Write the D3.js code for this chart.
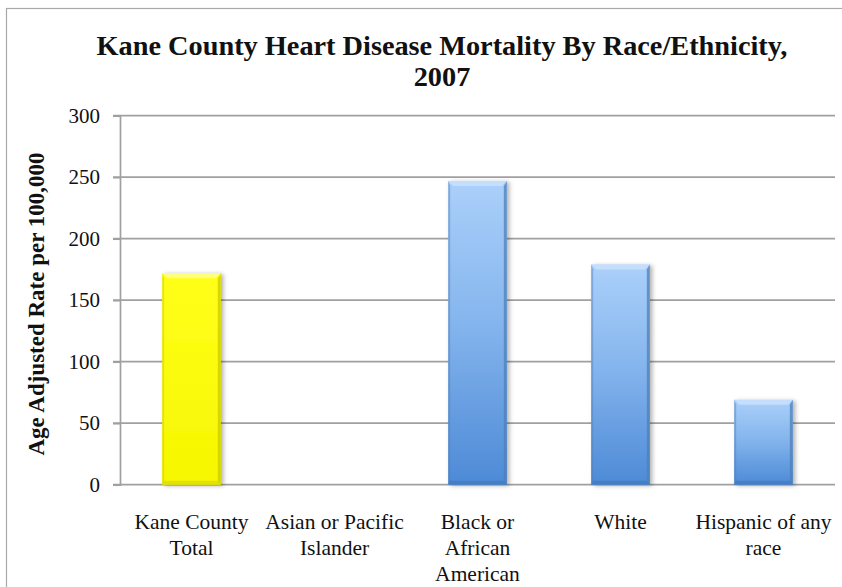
<!DOCTYPE html>
<html>
<head>
<meta charset="utf-8">
<script src="https://cdn.jsdelivr.net/npm/d3@7/dist/d3.min.js"></script>
<style>
  html, body { margin: 0; padding: 0; background: #fff; }
  svg { display: block; }
  svg text { font-family: 'Liberation Serif', Tinos, 'Times New Roman', Times, 'DejaVu Serif', serif !important; fill: #111; }
</style>
</head>
<body>
<svg id="chart" width="842" height="587"></svg>
<script>
// Heart disease mortality, age adjusted rate per 100,000 (2007)
const categories = [
  ["Kane County", "Total"],
  ["Asian or Pacific", "Islander"],
  ["Black or", "African", "American"],
  ["White"],
  ["Hispanic of any", "race"]
];
const rates = [172, null, 247, 179, 69];
const barKinds = ["total", "group", "group", "group", "group"];
const yTicks = [0, 50, 100, 150, 200, 250, 300];
const titleLines = ["Kane County Heart Disease Mortality By Race/Ethnicity,", "2007"];
const yAxisTitle = "Age Adjusted Rate per 100,000";

const serif = "'Liberation Serif', Tinos, 'Times New Roman', Times, 'DejaVu Serif', serif";
const svg = d3.select("#chart");
const plot = { left: 120, right: 835, top: 115.7, bottom: 484.7 };

// chart frame
svg.append("rect")
  .attr("x", 6.5).attr("y", 8.5)
  .attr("width", 1000).attr("height", 1000)
  .attr("fill", "none").attr("stroke", "#a9a9a9").attr("stroke-width", 1.2);

const x = d3.scaleBand()
  .domain(d3.range(categories.length))
  .range([plot.left, plot.right])
  .paddingInner(0.59)
  .paddingOuter(0.295);

const y = d3.scaleLinear().domain([0, 300]).range([plot.bottom, plot.top]);

// gradients
const defs = svg.append("defs");
function vGrad(id, stops) {
  const g = defs.append("linearGradient").attr("id", id)
    .attr("x1", 0).attr("y1", 0).attr("x2", 0).attr("y2", 1);
  stops.forEach(([o, c]) => g.append("stop").attr("offset", o).attr("stop-color", c));
}
vGrad("blueFill", [[0, "#abd0fa"], [0.45, "#86b6ee"], [1, "#4d8ad6"]]);
vGrad("yellowFill", [[0, "#ffff1a"], [1, "#f6f600"]]);
defs.append("filter").attr("id", "shadow").attr("x", "-20%").attr("y", "-5%")
  .attr("width", "150%").attr("height", "115%")
  .append("feDropShadow").attr("dx", 2.5).attr("dy", 1).attr("stdDeviation", 2)
  .attr("flood-color", "#000").attr("flood-opacity", 0.3);

// gridlines
svg.append("g").selectAll("line")
  .data(yTicks)
  .join("line")
  .attr("x1", plot.left - 7).attr("x2", plot.right)
  .attr("y1", d => y(d)).attr("y2", d => y(d))
  .attr("stroke", "#a0a0a0").attr("stroke-width", 1.7);

// y axis
const yAxis = svg.append("g")
  .attr("transform", `translate(${plot.left},0)`)
  .call(d3.axisLeft(y).tickValues(yTicks).tickSize(7).tickPadding(13))
  .attr("font-family", serif);
yAxis.select(".domain").attr("stroke", "#a0a0a0").attr("stroke-width", 1.7);
yAxis.selectAll(".tick line").attr("stroke", "#a0a0a0").attr("stroke-width", 1.7);
yAxis.selectAll(".tick text")
  .attr("font-family", serif)
  .attr("font-size", 21).attr("fill", "#111");

// bars
const palette = {
  total: { fill: "url(#yellowFill)", edge: "#c9c900", top: "#ffff8c", bottom: "#d6d600" },
  group: { fill: "url(#blueFill)", edge: "#4f7fb8", top: "#c9e1fd", bottom: "#3f76bd" }
};
const bars = svg.append("g").selectAll("g")
  .data(rates.map((v, i) => ({ v, i, kind: barKinds[i] })).filter(d => d.v != null))
  .join("g");

bars.each(function(d) {
  const g = d3.select(this);
  const x0 = x(d.i), w = x.bandwidth(), y0 = y(d.v), y1 = y(0);
  const p = palette[d.kind];
  g.append("rect")
    .attr("x", x0).attr("y", y0).attr("width", w).attr("height", y1 - y0)
    .attr("fill", p.fill).attr("filter", "url(#shadow)");
  const b = 5;
  // bevelled edges
  g.append("polygon")
    .attr("points", [[x0, y0], [x0 + w, y0], [x0 + w - b, y0 + b], [x0 + b, y0 + b]].join(" "))
    .attr("fill", p.top).attr("opacity", 0.85);
  g.append("polygon")
    .attr("points", [[x0 + w, y0], [x0 + w, y1], [x0 + w - 3, y1 - 3], [x0 + w - 3, y0 + b]].join(" "))
    .attr("fill", p.edge).attr("opacity", 0.75);
  g.append("polygon")
    .attr("points", [[x0, y0], [x0 + 2, y0 + b], [x0 + 2, y1 - 3], [x0, y1]].join(" "))
    .attr("fill", p.edge).attr("opacity", 0.45);
  g.append("polygon")
    .attr("points", [[x0, y1], [x0 + w, y1], [x0 + w - 3, y1 - 4], [x0 + 2, y1 - 4]].join(" "))
    .attr("fill", p.bottom).attr("opacity", 0.6);
});

// category labels
const catG = svg.append("g");
categories.forEach((lines, i) => {
  const cx = x(i) + x.bandwidth() / 2;
  const t = catG.append("text")
    .attr("x", cx)
    .attr("y", 529)
    .attr("text-anchor", "middle")
    .attr("font-family", serif)
    .attr("font-size", 21.5);
  lines.forEach((ln, k) => {
    t.append("tspan").attr("x", cx).attr("dy", k === 0 ? 0 : 26).text(ln);
  });
});

// title
titleLines.forEach((ln, k) => {
  svg.append("text")
    .attr("x", 442).attr("y", 55 + k * 31)
    .attr("text-anchor", "middle")
    .attr("font-family", serif)
    .attr("font-size", 28.3).attr("font-weight", "bold")
    .text(ln);
});

// y axis title
svg.append("text")
  .attr("transform", "translate(44,304) rotate(-90)")
  .attr("text-anchor", "middle")
  .attr("font-family", serif)
  .attr("font-size", 23).attr("font-weight", "bold")
  .text(yAxisTitle);
</script>
</body>
</html>
